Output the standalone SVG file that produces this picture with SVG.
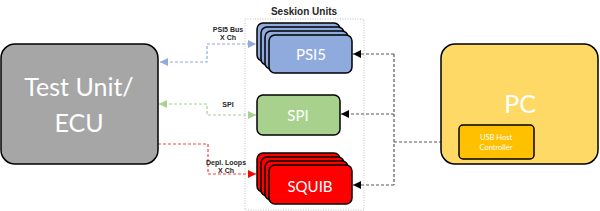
<svg xmlns="http://www.w3.org/2000/svg" width="600" height="211" viewBox="0 0 600 211">
<defs>
<style>
.box{stroke:#000;stroke-width:1.5}
.big{font-family:Lato,"Open Sans","Liberation Sans",sans-serif;fill:#fff;text-anchor:middle}
.lbl{font-family:"Liberation Sans",Arial,sans-serif;font-weight:bold;font-size:7px;fill:#262626;text-anchor:middle}
.dash{fill:none;stroke-width:1.2;stroke-dasharray:3,2}
</style>
<marker id="aB" viewBox="0 0 10 10" refX="10" refY="5" markerWidth="8" markerHeight="8" markerUnits="userSpaceOnUse" orient="auto-start-reverse"><path d="M0,0 L10,5 L0,10 z" fill="#8FAADC"/></marker>
<marker id="aG" viewBox="0 0 10 10" refX="10" refY="5" markerWidth="8" markerHeight="8" markerUnits="userSpaceOnUse" orient="auto-start-reverse"><path d="M0,0 L10,5 L0,10 z" fill="#A9D18E"/></marker>
<marker id="aR" viewBox="0 0 10 10" refX="10" refY="5" markerWidth="8" markerHeight="8" markerUnits="userSpaceOnUse" orient="auto-start-reverse"><path d="M0,0 L10,5 L0,10 z" fill="#FF0000"/></marker>
<marker id="aK" viewBox="0 0 10 10" refX="10" refY="5" markerWidth="8" markerHeight="8" markerUnits="userSpaceOnUse" orient="auto-start-reverse"><path d="M0,0 L10,5 L0,10 z" fill="#000"/></marker>
</defs>
<rect width="600" height="211" fill="#fff"/>

<g id="seskion-units">
<rect x="245" y="19" width="119" height="191" fill="none" stroke="#bfbfbf" stroke-width="1" stroke-dasharray="1,1.5"/>
<text x="304" y="15" font-family="Liberation Sans,Arial,sans-serif" font-weight="bold" font-size="10" fill="#262626" text-anchor="middle">Seskion Units</text>
</g>

<g id="connectors">
<path class="dash" stroke="#8FAADC" d="M160,62 H207 V44 H256" marker-start="url(#aB)" marker-end="url(#aB)"/>
<path class="dash" stroke="#A9D18E" d="M159,104 H207 V115 H256" marker-start="url(#aG)" marker-end="url(#aG)"/>
<path class="dash" stroke="#FF4040" d="M158,144 H208 V174 H256" marker-end="url(#aR)"/>
<path class="dash" stroke="#595959" d="M394,54 H353" marker-end="url(#aK)"/>
<path class="dash" stroke="#595959" d="M394,114 H341" marker-end="url(#aK)"/>
<path class="dash" stroke="#595959" d="M394,185 H353" marker-end="url(#aK)"/>
<path class="dash" stroke="#595959" d="M394,54 V185"/>
<path class="dash" stroke="#595959" d="M394,142 H459" marker-end="url(#aK)"/>
<text class="lbl" x="228" y="32">PSI5 Bus</text>
<text class="lbl" x="228" y="39.5">X Ch</text>
<text class="lbl" x="228" y="107">SPI</text>
<text class="lbl" x="226" y="165">Depl. Loops</text>
<text class="lbl" x="226" y="172.5">X Ch</text>
</g>

<g id="test-unit">
<rect class="box" x="1" y="44" width="157" height="120" rx="14" fill="#A6A6A6"/>
<text class="big" x="79" y="96" font-size="25">Test Unit/</text>
<text class="big" x="79" y="132" font-size="25">ECU</text>
</g>

<g id="psi5">
<rect class="box" x="257" y="23" width="83" height="38" rx="6" fill="#8FAADC"/>
<rect class="box" x="261" y="27" width="83" height="38" rx="6" fill="#8FAADC"/>
<rect class="box" x="265" y="31" width="83" height="38" rx="6" fill="#8FAADC"/>
<rect class="box" x="269" y="35" width="83" height="38" rx="6" fill="#8FAADC"/>
<text class="big" x="311" y="60" font-size="15">PSI5</text>
</g>

<g id="spi">
<rect class="box" x="257" y="95" width="83" height="40" rx="6" fill="#A9D18E"/>
<text class="big" x="298" y="121" font-size="15">SPI</text>
</g>

<g id="squib">
<rect class="box" x="257" y="153" width="83" height="39" rx="6" fill="#FF0000"/>
<rect class="box" x="261" y="157" width="83" height="39" rx="6" fill="#FF0000"/>
<rect class="box" x="265" y="161" width="83" height="39" rx="6" fill="#FF0000"/>
<rect class="box" x="269" y="165" width="83" height="39" rx="6" fill="#FF0000"/>
<text class="big" x="310" y="192" font-size="15">SQUIB</text>
</g>

<g id="pc">
<rect class="box" x="441" y="44" width="157" height="120" rx="14" fill="#FFD966"/>
<text class="big" x="520" y="113" font-size="25">PC</text>
</g>

<g id="usb-host-controller">
<rect class="box" x="459" y="125" width="75" height="34" rx="4" fill="#FFC000"/>
<text class="big" x="496" y="139.5" font-size="7.5">USB Host</text>
<text class="big" x="496" y="149.5" font-size="7.5">Controller</text>
</g>
</svg>
